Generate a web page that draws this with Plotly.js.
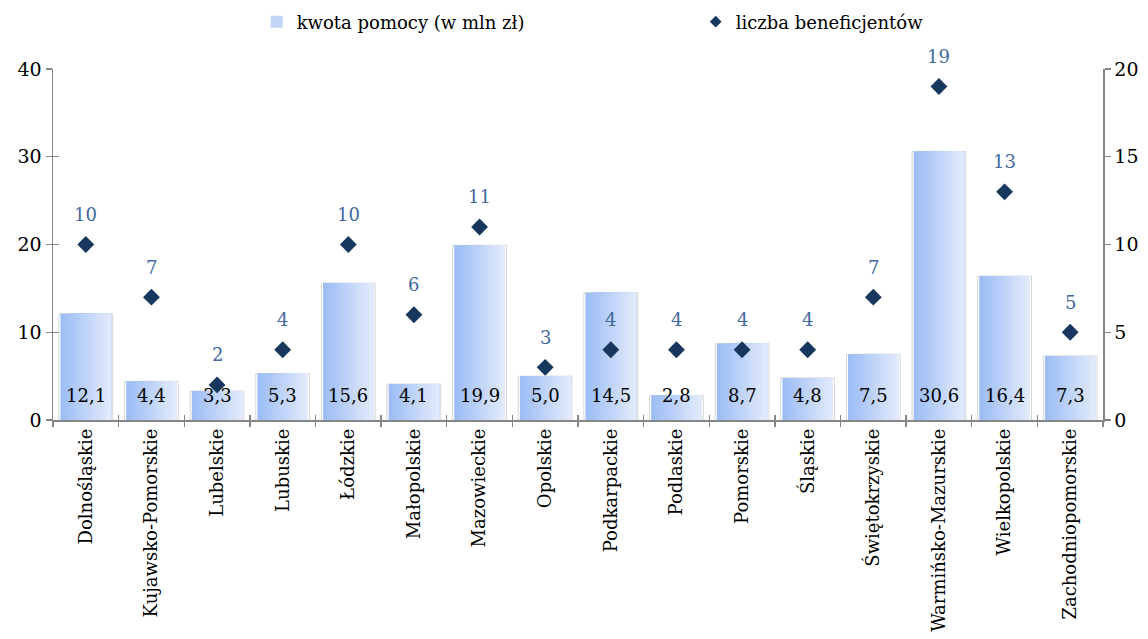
<!DOCTYPE html>
<html>
<head>
<meta charset="utf-8">
<script src="https://cdn.plot.ly/plotly-3.0.1.min.js"></script>
<style>html,body{margin:0;padding:0;background:#fff;}#chart{width:1148px;height:639px;}</style>
</head>
<body>
<div id="chart"></div>
<script>
const categories = ["Dolnośląskie","Kujawsko-Pomorskie","Lubelskie","Lubuskie","Łódzkie","Małopolskie","Mazowieckie","Opolskie","Podkarpackie","Podlaskie","Pomorskie","Śląskie","Świętokrzyskie","Warmińsko-Mazurskie","Wielkopolskie","Zachodniopomorskie"];
const amounts = [12.1, 4.4, 3.3, 5.3, 15.6, 4.1, 19.9, 5.0, 14.5, 2.8, 8.7, 4.8, 7.5, 30.6, 16.4, 7.3];
const beneficiaries = [10, 7, 2, 4, 10, 6, 11, 3, 4, 4, 4, 4, 7, 19, 13, 5];
const leftTicks = [0, 10, 20, 30, 40];
const rightTicks = [0, 5, 10, 15, 20];
const seriesNames = ["kwota pomocy (w mln zł)", "liczba beneficjentów"];

const FONT = "DejaVu Serif";
const AXIS = "#868686";
const W = 0.77, N = 20;
const c0 = [156, 189, 245], c1 = [226, 234, 251];
const traces = [];
// white framed backdrop (border + faint shadow)
traces.push({type:"bar", x:categories, y:amounts, width:W+0.05, marker:{color:"#ffffff", line:{color:"#d6d6d6", width:1}}, showlegend:false, hoverinfo:"skip", xaxis:"x", yaxis:"y"});
// gradient fill: overlapping strips, each reaching to the bar's right edge
for (let i = 0; i < N; i++) {
  const t = i/(N-1);
  const c = c0.map((v,k)=>Math.round(v + (c1[k]-v)*t));
  traces.push({type:"bar", x:categories, y:amounts, width:W - i*W/N, offset:-W/2 + i*W/N,
    marker:{color:`rgb(${c[0]},${c[1]},${c[2]})`, line:{width:0}},
    name: seriesNames[0], showlegend: i === Math.floor(N/2), xaxis:"x", yaxis:"y"});
}
traces.push({type:"scatter", mode:"markers", x:categories, y:beneficiaries, name:seriesNames[1], showlegend:false,
  marker:{symbol:"diamond", size:13, color:"#17375e"}, xaxis:"x", yaxis:"y2"});
// legend-only entry with a smaller diamond, as in the original key
traces.push({type:"scatter", mode:"markers", x:[categories[0]], y:[null], name:seriesNames[1], showlegend:true,
  marker:{symbol:"diamond", size:9, color:"#17375e"}, xaxis:"x", yaxis:"y2", hoverinfo:"skip"});
// helper invisible trace for inside ticks
traces.push({type:"scatter", mode:"markers", x:categories, y:amounts, marker:{opacity:0}, showlegend:false, hoverinfo:"skip", xaxis:"x2", yaxis:"y3"});

const annotations = [];
categories.forEach((c,i)=>{
  annotations.push({x:c, y:0, xref:"x", yref:"y", text:amounts[i].toFixed(1).replace(".", ","), showarrow:false, yanchor:"middle", yshift:25, font:{family:FONT, size:18, color:"#000"}});
  annotations.push({x:c, y:beneficiaries[i], xref:"x", yref:"y2", text:String(beneficiaries[i]), showarrow:false, yanchor:"middle", yshift:30, font:{family:FONT, size:18, color:"#41689f"}});
});

const layout = {
  width:1148, height:639,
  margin:{l:53, r:45, t:69, b:219, autoexpand:false},
  paper_bgcolor:"#fff", plot_bgcolor:"#fff",
  barmode:"overlay",
  font:{family:FONT, size:18, color:"#000"},
  showlegend:true,
  legend:{orientation:"h", x:0.194, xanchor:"left", y:1.134, yanchor:"middle", font:{family:FONT, size:18}, entrywidth:394, itemwidth:30, traceorder:"normal"},
  xaxis:{type:"category", categoryarray:categories, categoryorder:"array", range:[-0.5,15.5], tickson:"boundaries", ticks:"outside", ticklen:5, tickwidth:1.3, tickcolor:AXIS, showline:true, linecolor:AXIS, linewidth:1.5, tickangle:-90, tickfont:{family:FONT, size:18}, showgrid:false, zeroline:false, automargin:false},
  xaxis2:{type:"category", categoryarray:categories, categoryorder:"array", range:[-0.5,15.5], overlaying:"x", tickson:"boundaries", ticks:"inside", ticklen:5, tickwidth:1.3, tickcolor:AXIS, showline:false, showticklabels:false, showgrid:false, zeroline:false},
  yaxis:{range:[0,40], tickvals:leftTicks, ticks:"outside", ticklen:6, tickwidth:1.3, tickcolor:AXIS, showline:true, linecolor:AXIS, linewidth:1.5, showgrid:false, zeroline:false, tickfont:{family:FONT, size:19}, automargin:false},
  yaxis2:{range:[0,20], tickvals:rightTicks, overlaying:"y", side:"right", ticks:"outside", ticklen:6, tickwidth:1.3, tickcolor:AXIS, showline:true, linecolor:AXIS, linewidth:1.5, showgrid:false, zeroline:false, tickfont:{family:FONT, size:19}, automargin:false},
  yaxis3:{range:[0,40], tickvals:leftTicks, overlaying:"y", anchor:"x", side:"left", ticks:"inside", ticklen:6, tickwidth:1.3, tickcolor:AXIS, showline:false, showticklabels:false, showgrid:false, zeroline:false},
  annotations:annotations
};
Plotly.newPlot("chart", traces, layout, {displayModeBar:false, staticPlot:true});
</script>
</body>
</html>
